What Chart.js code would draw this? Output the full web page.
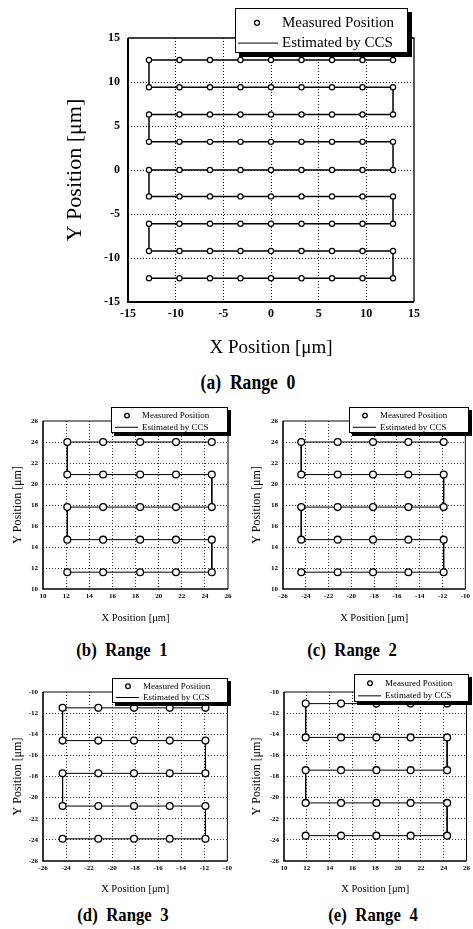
<!DOCTYPE html>
<html><head><meta charset="utf-8">
<script src="https://cdn.jsdelivr.net/npm/chart.js@4/dist/chart.umd.min.js"></script>
<style>
html,body{margin:0;padding:0;background:#fff;width:473px;height:929px;overflow:hidden;position:relative}
canvas{position:absolute}
.cap{position:absolute;font-family:"Liberation Serif",serif;font-weight:bold;color:#000;white-space:nowrap;word-spacing:5px;transform:translate(-50%,-50%) scaleX(0.88)}
</style></head><body>
<canvas id="cA" width="420" height="360" style="left:40px;top:0px"></canvas>
<canvas id="cB" width="235" height="235" style="left:0px;top:395px"></canvas>
<canvas id="cC" width="237" height="235" style="left:236px;top:395px"></canvas>
<canvas id="cD" width="235" height="235" style="left:0px;top:665px"></canvas>
<canvas id="cE" width="237" height="235" style="left:236px;top:665px"></canvas>
<div class="cap" style="left:248px;top:382px;font-size:20px">(a) Range 0</div>
<div class="cap" style="left:122px;top:650px;font-size:19px">(b) Range 1</div>
<div class="cap" style="left:352px;top:650px;font-size:19px">(c) Range 2</div>
<div class="cap" style="left:123px;top:915px;font-size:19px">(d) Range 3</div>
<div class="cap" style="left:373px;top:915px;font-size:19px">(e) Range 4</div>
<script>
// ---- data ----
const range0_x = [-12.8, -9.6, -6.4, -3.2, 0, 3.2, 6.4, 9.6, 12.8];
const range0_y = [12.5, 9.4, 6.3, 3.2, 0, -3.0, -6.1, -9.2, -12.3];
const range1_x = [12.1, 15.2, 18.4, 21.5, 24.6];
const range1_y = [24.0, 20.9, 17.8, 14.7, 11.6];
const range2_x = [-24.4, -21.2, -18.1, -15.0, -11.9];
const range2_y = [24.0, 20.9, 17.8, 14.7, 11.6];
const range3_x = [-24.3, -21.2, -18.1, -15.0, -11.9];
const range3_y = [-11.5, -14.6, -17.7, -20.8, -23.9];
const range4_x = [11.9, 15.0, 18.1, 21.1, 24.3];
const range4_y = [-11.1, -14.3, -17.4, -20.5, -23.6];

const ticks0 = [-15, -10, -5, 0, 5, 10, 15];
const ticksPos = [10, 12, 14, 16, 18, 20, 22, 24, 26];
const ticksNeg = [-26, -24, -22, -20, -18, -16, -14, -12, -10];

const seriesLabels = ['Measured Position', 'Estimated by CCS'];
const xTitle = 'X Position [\u03bcm]';
const yTitle = 'Y Position [\u03bcm]';

const FONT = '"Liberation Serif", serif';

const framePlugin = {
  id: 'frameBox',
  afterDraw(chart, args, o) {
    const a = chart.chartArea, ctx = chart.ctx;
    ctx.save();
    ctx.strokeStyle = '#000';
    ctx.lineWidth = o.thin;
    ctx.beginPath();
    ctx.moveTo(a.left, a.top); ctx.lineTo(a.right, a.top); ctx.lineTo(a.right, a.bottom);
    ctx.stroke();
    ctx.lineWidth = o.thick;
    ctx.beginPath();
    ctx.moveTo(a.left, a.top); ctx.lineTo(a.left, a.bottom); ctx.lineTo(a.right, a.bottom);
    ctx.stroke();
    ctx.restore();
  }
};

const legendPlugin = {
  id: 'boxLegend',
  afterDraw(chart, args, o) {
    const ctx = chart.ctx;
    const [bx, by, bw, bh] = o.box;
    ctx.save();
    ctx.fillStyle = '#000';
    ctx.fillRect(bx + o.shadow, by + o.shadow, bw, bh);
    ctx.fillStyle = '#fff';
    ctx.fillRect(bx, by, bw, bh);
    ctx.strokeStyle = '#000';
    ctx.lineWidth = 1;
    ctx.strokeRect(bx + 0.5, by + 0.5, bw - 1, bh - 1);
    const ds = chart.data.datasets;
    const r0 = by + bh * 0.33, r1 = by + bh * 0.78;
    ctx.font = o.fontSize + 'px ' + FONT;
    ctx.textBaseline = 'middle';
    ctx.textAlign = 'left';
    ctx.fillStyle = '#000';
    ctx.lineWidth = o.symLW;
    ctx.beginPath(); ctx.arc(bx + o.symX, r0, o.r, 0, Math.PI * 2); ctx.stroke();
    ctx.fillText(ds[0].label, bx + o.textX, r0);
    ctx.lineWidth = 1;
    ctx.beginPath(); ctx.moveTo(bx + o.line[0], r1); ctx.lineTo(bx + o.line[1], r1); ctx.stroke();
    ctx.fillText(ds[1].label, bx + o.textX, r1);
    ctx.restore();
  }
};

function makeChart(id, c) {
  const measured = [];
  c.ys.forEach(y => c.xs.forEach(x => measured.push({x: x, y: y})));
  const path = [];
  c.ys.forEach((y, i) => {
    const row = c.xs.map(x => ({x: x, y: y}));
    if (i % 2 === 0) row.reverse();
    path.push(...row);
  });
  const axis = (ticks, isX) => ({
    type: 'linear',
    min: ticks[0], max: ticks[ticks.length - 1],
    afterBuildTicks: s => { s.ticks = ticks.map(v => ({value: v})); },
    afterFit: s => { if (isX) s.height = c.xH; else s.width = c.yW; },
    ticks: {
      color: '#000', autoSkip: false, maxRotation: 0,
      padding: isX ? c.xTickPad : c.yTickPad,
      font: {family: FONT, size: c.tickSize, weight: 'bold'}
    },
    grid: {
      drawTicks: false, lineWidth: 1,
      color: ctx => (ctx.tick && (ctx.tick.value === ticks[0] || ctx.tick.value === ticks[ticks.length - 1])) ? 'rgba(0,0,0,0)' : c.gridColor
    },
    border: {display: false, dash: [1, 2]},
    title: {
      display: true, text: isX ? xTitle : yTitle, color: '#000',
      font: {family: FONT, size: isX ? c.xTitleSize : c.yTitleSize, lineHeight: 1.2},
      padding: isX ? {top: 0, bottom: c.xTitlePad} : {top: c.yTitlePad, bottom: 0}
    }
  });
  return new Chart(document.getElementById(id), {
    type: 'scatter',
    data: {
      datasets: [
        {label: seriesLabels[0], data: measured, showLine: false, pointStyle: 'circle',
         pointRadius: c.r, pointBorderWidth: c.pbw, pointBorderColor: '#000', pointBackgroundColor: '#fff'},
        {label: seriesLabels[1], data: path, showLine: true, pointRadius: 0,
         borderColor: '#000', borderWidth: c.lw, tension: 0, fill: false}
      ]
    },
    options: {
      responsive: false, animation: false, devicePixelRatio: 1,
      layout: {padding: {left: 0, top: c.padTop, right: c.padRight, bottom: 0}},
      plugins: {
        legend: {display: false}, tooltip: {enabled: false},
        frameBox: {thin: c.frameThin, thick: c.frameThick},
        boxLegend: c.legend
      },
      scales: {x: axis(c.xt, true), y: axis(c.yt, false)}
    },
    plugins: [framePlugin, legendPlugin]
  });
}

const smallCommon = {
  tickSize: 7, xTickPad: 3, yTickPad: 5, gridColor: '#333',
  xTitleSize: 10.5, yTitleSize: 12, r: 3.4, pbw: 1.3, lw: 1,
  frameThin: 1, frameThick: 1.6
};
const smallLegend = {fontSize: 9, shadow: 3, symX: 16, r: 2.3, symLW: 1.3, line: [4, 27], textX: 31};

makeChart('cA', {
  xs: range0_x, ys: range0_y, xt: ticks0, yt: ticks0,
  yW: 88, xH: 58, padTop: 38, padRight: 46,
  tickSize: 12, xTickPad: 5, yTickPad: 8, gridColor: '#111',
  xTitleSize: 19, yTitleSize: 22, xTitlePad: 0.6, yTitlePad: 21.8,
  r: 2.6, pbw: 1.2, lw: 1.5, frameThin: 1.3, frameThick: 2,
  legend: {box: [195, 8, 173, 45], fontSize: 15, shadow: 4, symX: 22, r: 2.5, symLW: 1.3, line: [3, 43], textX: 47}
});
makeChart('cB', Object.assign({}, smallCommon, {
  xs: range1_x, ys: range1_y, xt: ticksPos, yt: ticksPos,
  yW: 43, xH: 41, padTop: 26, padRight: 7, xTitlePad: 5, yTitlePad: 11,
  legend: Object.assign({}, smallLegend, {box: [111, 12, 117, 26]})
}));
makeChart('cC', Object.assign({}, smallCommon, {
  xs: range2_x, ys: range2_y, xt: ticksNeg, yt: ticksPos,
  yW: 47, xH: 41, padTop: 26, padRight: 5, xTitlePad: 5, yTitlePad: 14,
  legend: Object.assign({}, smallLegend, {box: [113, 12, 120, 26]})
}));
makeChart('cD', Object.assign({}, smallCommon, {
  xs: range3_x, ys: range3_y, xt: ticksNeg, yt: ticksNeg,
  yW: 43, xH: 39, padTop: 27, padRight: 6, xTitlePad: 4, yTitlePad: 11,
  legend: Object.assign({}, smallLegend, {box: [112, 13, 116, 25]})
}));
makeChart('cE', Object.assign({}, smallCommon, {
  xs: range4_x, ys: range4_y, xt: ticksPos, yt: ticksNeg,
  yW: 48, xH: 39, padTop: 27, padRight: 4, xTitlePad: 4, yTitlePad: 14,
  legend: Object.assign({}, smallLegend, {box: [118, 9, 115, 28]})
}));
</script>
</body></html>
